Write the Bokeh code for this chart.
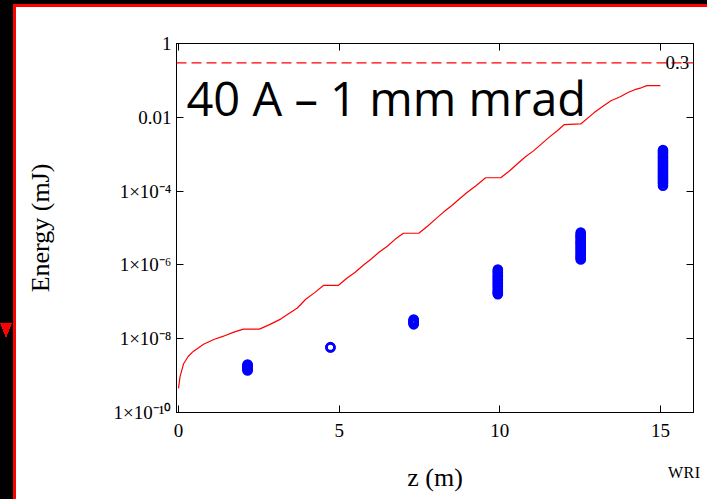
import math
from bokeh.plotting import figure
from bokeh.models import Range1d, FixedTicker, LinearAxis, LogAxis, Span, Label
from bokeh.embed import file_html
from bokeh.resources import INLINE

# ---------------- data ----------------
z_curve = [0.0, 0.05, 0.16, 0.30, 0.47, 0.78, 1.10, 1.40, 1.70, 2.02, 2.52, 2.85, 3.18,
           3.45, 3.70, 3.96, 4.25, 4.52, 4.98, 5.25, 5.50, 5.75, 6.00, 6.25, 6.50, 6.75,
           7.00, 7.48, 7.75, 8.00, 8.25, 8.50, 8.75, 9.00, 9.25, 9.56, 10.03, 10.30,
           10.55, 10.80, 11.05, 11.30, 11.55, 11.80, 12.00, 12.52, 12.93, 13.20, 13.46,
           13.75, 13.99, 14.20, 14.40, 14.58, 15.00]
e_curve = [4.5e-10, 9.5e-10, 2.1e-9, 3.3e-9, 4.6e-9, 7.1e-9, 9.5e-9, 1.17e-8, 1.48e-8,
           1.82e-8, 1.82e-8, 2.45e-8, 3.4e-8, 4.9e-8, 6.8e-8, 1.17e-7, 1.8e-7, 2.8e-7,
           2.8e-7, 4.4e-7, 6.3e-7, 9.8e-7, 1.45e-6, 2.24e-6, 3.2e-6, 5.0e-6, 7.2e-6,
           7.2e-6, 1.12e-5, 1.74e-5, 2.7e-5, 4.0e-5, 6.2e-5, 9.5e-5, 1.38e-4, 2.3e-4,
           2.3e-4, 3.5e-4, 5.5e-4, 8.5e-4, 1.23e-3, 1.9e-3, 2.95e-3, 4.4e-3, 6.3e-3,
           6.6e-3, 1.32e-2, 1.95e-2, 2.8e-2, 3.6e-2, 4.7e-2, 5.6e-2, 6.3e-2, 7.2e-2, 7.2e-2]

z_groups = [2.15, 4.73, 7.32, 9.94, 12.52, 15.08]
e_groups = [
    [2.0e-9, 1.9e-9, 1.82e-9, 1.74e-9, 1.66e-9, 1.58e-9, 1.51e-9, 1.44e-9, 1.38e-9],
    [5.8e-9, 5.9e-9],
    [3.3e-8, 3.15e-8, 3.0e-8, 2.87e-8, 2.75e-8, 2.6e-8, 2.45e-8],
    [7.5e-7, 6.8e-7, 6.3e-7, 5.7e-7, 5.2e-7, 4.8e-7, 4.4e-7, 4.0e-7, 3.7e-7, 3.4e-7,
     3.1e-7, 2.85e-7, 2.6e-7, 2.35e-7, 2.1e-7, 1.95e-7, 1.8e-7, 1.7e-7, 1.6e-7],
    [7.5e-6, 6.9e-6, 6.4e-6, 5.9e-6, 5.5e-6, 5.0e-6, 4.6e-6, 4.2e-6, 3.9e-6, 3.6e-6,
     3.3e-6, 3.0e-6, 2.8e-6, 2.55e-6, 2.3e-6, 2.1e-6, 1.9e-6, 1.75e-6, 1.6e-6, 1.5e-6,
     1.4e-6],
    [1.3e-3, 1.2e-3, 1.1e-3, 1.0e-3, 9e-4, 8.2e-4, 7.5e-4, 6.8e-4, 6.2e-4, 5.7e-4, 5.2e-4,
     4.7e-4, 4.3e-4, 3.9e-4, 3.6e-4, 3.3e-4, 3.0e-4, 2.75e-4, 2.5e-4, 2.3e-4, 2.1e-4,
     1.9e-4, 1.75e-4, 1.6e-4, 1.4e-4],
]
z_pts = [z for z, g in zip(z_groups, e_groups) for _ in g]
e_pts = [e for g in e_groups for e in g]

limit_level = 0.3
limit_text = "0.3"
x_ticks = [0, 5, 10, 15]
y_ticks = [1e-10, 1e-8, 1e-6, 1e-4, 1e-2, 1.0]
y_tick_labels = ["1×10⁻¹⁰", "1×10⁻⁸", "1×10⁻⁶", "1×10⁻⁴", "0.01", "1"]
title_text = "40 A – 1 mm mrad"
x_title = "z (m)"
y_title = "Energy (mJ)"
corner_text = "WRI"

# ---------------- figure ----------------
W, H = 707, 499
FL, FR, FT, FB = 176, 693, 43, 412
X0, X1 = -0.062, 16.03
Y0, Y1 = 1e-10, 1.0

def zx(px):
    return X0 + (px - FL) * (X1 - X0) / (FR - FL)

def ey(py):
    lo, hi = math.log10(Y0), math.log10(Y1)
    return 10 ** (hi - (py - FT) * (hi - lo) / (FB - FT))

p = figure(width=W, height=H, y_axis_type="log",
           x_range=Range1d(X0, X1), y_range=Range1d(Y0, Y1),
           output_backend="svg", toolbar_location=None,
           min_border_left=FL, min_border_right=W - FR,
           min_border_top=FT, min_border_bottom=H - FB)
p.grid.visible = False
p.outline_line_color = "black"
p.outline_line_width = 1
p.background_fill_color = "white"
p.border_fill_color = "white"

serif = "Liberation Serif"

def style_axis(ax, labels=True):
    ax.major_tick_in = 7
    ax.major_tick_out = 0
    ax.minor_tick_line_color = None
    ax.axis_line_color = "black"
    ax.major_tick_line_color = "black"
    ax.major_label_text_font = serif
    ax.major_label_text_color = "black"
    ax.axis_label_text_font = serif
    ax.axis_label_text_font_style = "normal"
    ax.axis_label_text_font_size = "26px"
    ax.axis_label_text_color = "black"
    if labels:
        ax.major_label_text_font_size = "19px"
    else:
        ax.major_label_text_font_size = "0px"
        ax.major_label_text_color = None

xa = p.xaxis[0]
xa.ticker = FixedTicker(ticks=x_ticks)
style_axis(xa)
xa.major_label_standoff = 11
xa.axis_label = x_title
xa.axis_label_standoff = 23

ya = p.yaxis[0]
ya.ticker = FixedTicker(ticks=y_ticks)
style_axis(ya)
ya.major_label_standoff = 5
ya.major_label_overrides = {t: s for t, s in zip(y_ticks, y_tick_labels)}
ya.axis_label = y_title
ya.axis_label_standoff = 56

top = LinearAxis(ticker=FixedTicker(ticks=x_ticks))
style_axis(top, labels=False)
p.add_layout(top, "above")
right = LogAxis(ticker=FixedTicker(ticks=y_ticks))
style_axis(right, labels=False)
p.add_layout(right, "right")

p.add_layout(Span(location=limit_level, dimension="width", line_color="red",
                  line_width=1.2, line_dash="10 5"))

p.line(z_curve, e_curve, line_color="red", line_width=1.2)
p.scatter(z_pts, e_pts, marker="circle", size=8, fill_color=None,
          line_color="blue", line_width=2.6)

p.add_layout(Label(x=zx(186), y=ey(97), text=title_text, text_font="Open Sans",
                   text_font_size="47px", text_color="black",
                   text_baseline="alphabetic", text_align="left"))
p.add_layout(Label(x=zx(665), y=ey(62), text=limit_text, text_font=serif,
                   text_font_size="19px", text_color="black",
                   text_baseline="alphabetic", text_align="left"))

# page decoration: black strips, red rules, red marker, corner tag
css = """
:host { position: relative; }
:host::before {
  content: ""; position: absolute; left: 0; top: 0; width: %dpx; height: %dpx;
  pointer-events: none; z-index: 10;
  background:
    linear-gradient(to top right, transparent 50%%, #ff0000 50%%) 0px 323px / 6px 15px no-repeat,
    linear-gradient(to top left, transparent 50%%, #ff0000 50%%) 6px 323px / 6px 15px no-repeat,
    linear-gradient(#000, #000) 0 0 / 13px 100%% no-repeat,
    linear-gradient(#000, #000) 0 0 / 100%% 4px no-repeat,
    linear-gradient(#ff0000, #ff0000) 13px 4px / 3px 100%% no-repeat,
    linear-gradient(#ff0000, #ff0000) 13px 4px / 100%% 3px no-repeat;
}
:host::after {
  content: "%s"; position: absolute; left: 668px; top: 465px;
  font-family: 'Liberation Serif'; font-size: 16px; line-height: 16px;
  letter-spacing: 0.5px;
  color: #000; z-index: 11; pointer-events: none;
}
""" % (W, H, corner_text)
p.stylesheets = [css]

open("out.html", "w").write(file_html(p, INLINE))
